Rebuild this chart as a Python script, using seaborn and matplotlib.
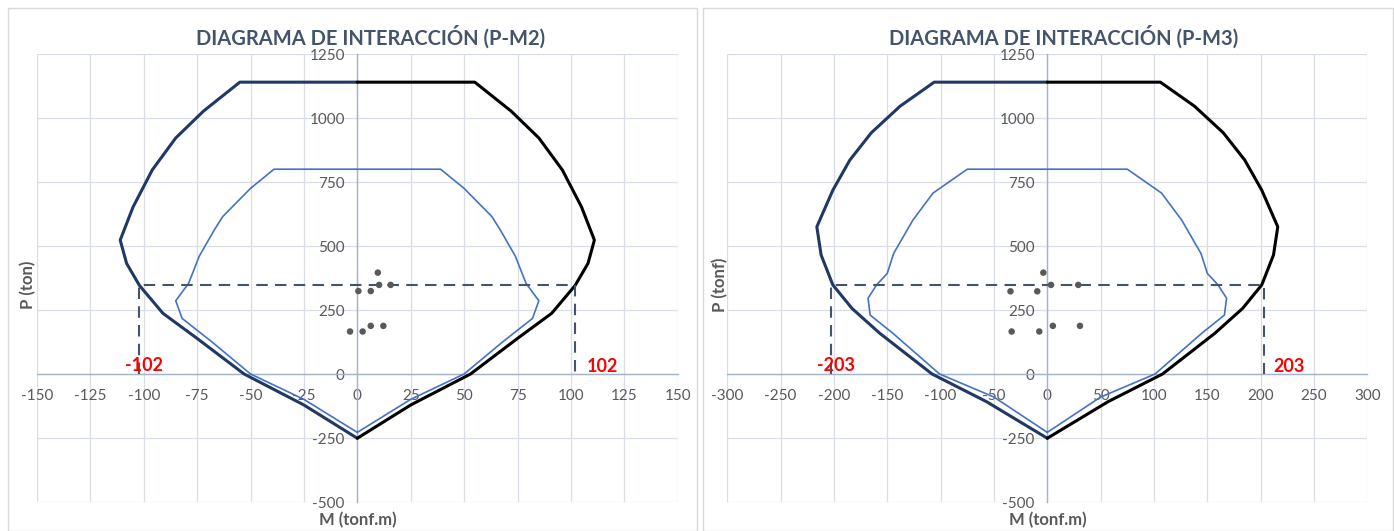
import matplotlib.pyplot as plt
import seaborn as sns
from matplotlib.patches import Rectangle

# ---------------- P-M2 data (M in tonf.m, P in ton) ----------------
m2_outer_left_M = [0, -55, -72, -85, -96, -105, -111, -108, -102, -91, -75, -53, -25, 0]
m2_outer_right_M = [0, 55, 72, 85, 96, 105, 111, 108, 102, 91, 75, 53, 25, 0]
m2_outer_P = [1140, 1140, 1027, 922, 797, 652, 523, 432, 346, 237, 139, 0, -121, -251]

m2_inner_M = [0, -25, -50, -68, -82, -85, -79, -74, -67, -63, -50, -39,
              39, 50, 63, 67, 74, 79, 85, 82, 68, 50, 25, 0]
m2_inner_P = [-228, -99, 0, 125, 217, 286, 354, 460, 562, 615, 725, 800,
              800, 725, 615, 562, 460, 354, 286, 217, 125, 0, -99, -228]

m2_demand_M = [-102, -102, 102, 102]
m2_demand_P = [0, 346, 346, 0]

m2_points_M = [9.6, 10.2, 15.6, 0.5, 6.3, -3.4, 2.5, 6.3, 12.2]
m2_points_P = [396, 348, 348, 324, 324, 166, 166, 188, 188]

# ---------------- P-M3 data ----------------
m3_outer_left_M = [0, -106, -138, -165, -185, -201, -216, -212, -201, -183, -157, -108, -57, 0]
m3_outer_right_M = [0, 106, 138, 165, 185, 201, 216, 212, 201, 183, 157, 108, 57, 0]
m3_outer_P = [1140, 1140, 1046, 942, 836, 718, 575, 465, 348, 256, 159, 0, -108, -251]

m3_inner_M = [0, -50, -101, -145, -166, -168, -160, -150, -144, -126, -107, -75,
              75, 107, 126, 144, 150, 160, 168, 166, 145, 101, 50, 0]
m3_inner_P = [-228, -90, 0, 160, 230, 296, 348, 393, 471, 601, 707, 800,
              800, 707, 601, 471, 393, 348, 296, 230, 160, 0, -90, -228]

m3_demand_M = [-203, -203, 203, 203]
m3_demand_P = [0, 346, 346, 0]

m3_points_M = [-3.7, 3.5, 29, -34.5, -9.4, -33.4, -7.5, 5.2, 30.6]
m3_points_P = [396, 348, 348, 323, 323, 166, 166, 188, 188]

sns.set_theme(style="whitegrid")
plt.rcParams["font.family"] = ["Lato", "DejaVu Sans"]
plt.rcParams["axes.unicode_minus"] = False

W, H = 1394, 531
fig = plt.figure(figsize=(W / 100, H / 100), dpi=100)
fig.patch.set_facecolor("white")

NAVY = "#203864"
BLUE = "#4472C4"
DASH = "#44546A"
GRAY = "#595959"


def px_axes(x0, x1, y_top, y_bot):
    return fig.add_axes([x0 / W, (H - y_bot) / H, (x1 - x0) / W, (y_bot - y_top) / H])


def draw_chart(ax, outer_l, outer_r, outer_p, inner_m, inner_p, dem_m, dem_p,
               pts_m, pts_p, xlim, xstep, labels):
    sns.lineplot(x=outer_l, y=outer_p, sort=False, estimator=None, ax=ax,
                 color=NAVY, lw=2.2, zorder=4)
    sns.lineplot(x=outer_r, y=outer_p, sort=False, estimator=None, ax=ax,
                 color="black", lw=2.2, zorder=4)
    sns.lineplot(x=inner_m, y=inner_p, sort=False, estimator=None, ax=ax,
                 color=BLUE, lw=1.2, zorder=4)
    sns.lineplot(x=dem_m, y=dem_p, sort=False, estimator=None, ax=ax,
                 color=DASH, lw=1.5, zorder=5)
    ax.lines[-1].set_dashes((5.5, 3.5))
    sns.scatterplot(x=pts_m, y=pts_p, ax=ax, color=GRAY, s=22, edgecolor="none", zorder=6)

    ax.set_xlim(-xlim, xlim)
    ax.set_ylim(-500, 1250)
    ax.set_xticks(range(-xlim, xlim + 1, xstep))
    ax.set_yticks(range(-500, 1251, 250))
    ax.grid(True, color="#D9DDE5", lw=0.9)
    ax.set_axisbelow(True)
    for s in ["top", "right"]:
        ax.spines[s].set_visible(False)
    ax.spines["left"].set_position(("data", 0))
    ax.spines["bottom"].set_position(("data", 0))
    for s in ["left", "bottom"]:
        ax.spines[s].set_color("#A5B3C9")
        ax.spines[s].set_linewidth(1.0)
        ax.spines[s].set_zorder(3)
    ax.tick_params(axis="x", length=0, pad=11, labelsize=11, labelcolor=GRAY)
    ax.tick_params(axis="y", length=0, pad=9, labelsize=11, labelcolor=GRAY)
    ax.set_xlabel("")
    ax.set_ylabel("")
    ax.patch.set_alpha(0)

    # red labels for the demand moment
    for lx, ly, lt in labels:
        ax.text(lx, ly, lt, color="#FF0000", fontsize=13, fontweight="bold",
                ha="center", va="center", zorder=7)


# chart borders
for x0, x1 in [(8, 697), (703, 1393)]:
    fig.patches.append(Rectangle((x0 / W, 0), (x1 - x0) / W, (H - 8) / H,
                                 transform=fig.transFigure, fill=False,
                                 edgecolor="#D9D9D9", lw=1))

ax1 = px_axes(36.9, 677.7, 54, 502)
draw_chart(ax1, m2_outer_left_M, m2_outer_right_M, m2_outer_P, m2_inner_M, m2_inner_P,
           m2_demand_M, m2_demand_P, m2_points_M, m2_points_P, 150, 25,
           [(-100, 35, "-102"), (115, 28, "102")])

ax2 = px_axes(727.2, 1367.4, 54, 502)
draw_chart(ax2, m3_outer_left_M, m3_outer_right_M, m3_outer_P, m3_inner_M, m3_inner_P,
           m3_demand_M, m3_demand_P, m3_points_M, m3_points_P, 300, 50,
           [(-198, 35, "-203"), (227, 28, "203")])

TITLE_C = "#44546A"
fig.text(371 / W, 1 - 37 / H, "DIAGRAMA DE INTERACCIÓN (P-M2)", ha="center", va="center",
         fontsize=14.5, fontweight="bold", color=TITLE_C)
fig.text(1064 / W, 1 - 37 / H, "DIAGRAMA DE INTERACCIÓN (P-M3)", ha="center", va="center",
         fontsize=14.5, fontweight="bold", color=TITLE_C)

fig.text(28 / W, 1 - 285 / H, "P (ton)", rotation=90, ha="center", va="center",
         fontsize=12, fontweight="bold", color=GRAY)
fig.text(720 / W, 1 - 285 / H, "P (tonf)", rotation=90, ha="center", va="center",
         fontsize=12, fontweight="bold", color=GRAY)
fig.text(358 / W, 1 - 520 / H, "M (tonf.m)", ha="center", va="center",
         fontsize=12, fontweight="bold", color=GRAY)
fig.text(1048 / W, 1 - 520 / H, "M (tonf.m)", ha="center", va="center",
         fontsize=12, fontweight="bold", color=GRAY)

fig.savefig("out.png", dpi=100)
